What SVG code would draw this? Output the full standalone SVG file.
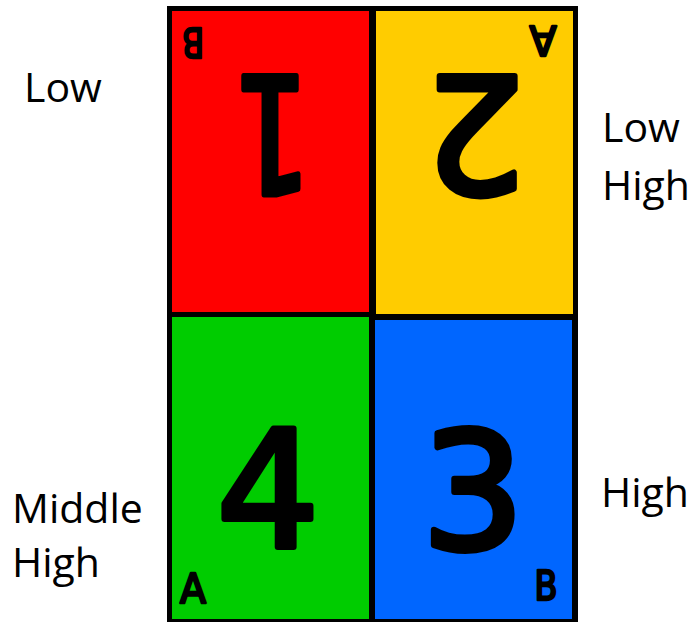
<svg xmlns="http://www.w3.org/2000/svg" width="691" height="622" viewBox="0 0 691 622">
  <style>
    .lbl { font-family: "Open Sans", "Liberation Sans", sans-serif; font-size: 41px; fill: #000; }
    .big { font-family: "DejaVu Sans", "Liberation Sans", sans-serif; font-size: 162px; fill: #000; text-anchor: middle; stroke: #000; stroke-width: 6; stroke-linejoin: round; stroke-linecap: round; }
    .small { font-family: "DejaVu Sans", "Liberation Sans", sans-serif; font-size: 40px; fill: #000; text-anchor: middle; stroke: #000; stroke-width: 2.5; stroke-linejoin: round; }
  </style>
  <rect x="0" y="0" width="691" height="622" fill="#ffffff"/>
  <g id="frame">
    <rect x="167" y="6" width="411" height="616" fill="#000000"/>
  </g>
  <g id="cell1">
    <rect x="172" y="11" width="197" height="301" fill="#ff0000"/>
    <text class="big" x="272" y="196" textLength="80" lengthAdjust="spacingAndGlyphs" transform="rotate(180 272 136)">1</text>
    <text class="small" x="193" y="56" textLength="22" lengthAdjust="spacingAndGlyphs" transform="rotate(180 193 42)">B</text>
  </g>
  <g id="cell2">
    <rect x="376" y="11" width="197" height="303" fill="#ffcc00"/>
    <text class="big" x="475" y="196" transform="rotate(180 475 136)">2</text>
    <text class="small" x="543" y="56" textLength="27" lengthAdjust="spacingAndGlyphs" transform="rotate(180 543 41)">A</text>
  </g>
  <g id="cell4">
    <rect x="172" y="317" width="197" height="302" fill="#00cc00"/>
    <text class="big" x="268" y="547">4</text>
    <text class="small" x="193" y="603" textLength="26" lengthAdjust="spacingAndGlyphs">A</text>
  </g>
  <g id="cell3">
    <rect x="375" y="320" width="197" height="299" fill="#0066ff"/>
    <text class="big" x="473" y="549">3</text>
    <text class="small" x="546" y="600" textLength="23" lengthAdjust="spacingAndGlyphs">B</text>
  </g>
  <g id="labels">
    <text class="lbl" x="24" y="102" font-size="42">Low</text>
    <text class="lbl" x="602" y="142">Low</text>
    <text class="lbl" x="602" y="200">High</text>
    <text class="lbl" x="12" y="523">Middle</text>
    <text class="lbl" x="12" y="577">High</text>
    <text class="lbl" x="601" y="507">High</text>
  </g>
  <g id="connectors"></g>
</svg>
